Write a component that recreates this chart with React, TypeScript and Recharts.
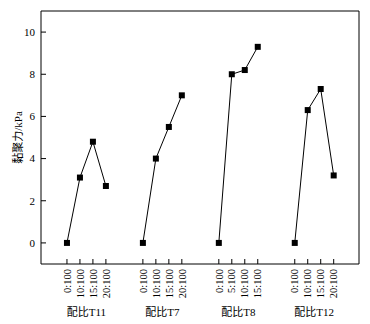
import React from "react";
import { LineChart, Line, XAxis, YAxis, ReferenceLine } from "recharts";

const groups = ["配比T11", "配比T7", "配比T8", "配比T12"];
const ratiosT11 = ["0:100", "10:100", "15:100", "20:100"];
const ratiosT7 = ["0:100", "10:100", "15:100", "20:100"];
const ratiosT8 = ["0:100", "5:100", "10:100", "15:100"];
const ratiosT12 = ["0:100", "10:100", "15:100", "20:100"];
const cohesionT11 = [0, 3.1, 4.8, 2.7];
const cohesionT7 = [0, 4.0, 5.5, 7.0];
const cohesionT8 = [0, 8.0, 8.2, 9.3];
const cohesionT12 = [0, 6.3, 7.3, 3.2];
const yTicks = [0, 2, 4, 6, 8, 10];

const ratios = [ratiosT11, ratiosT7, ratiosT8, ratiosT12];
const values = [cohesionT11, cohesionT7, cohesionT8, cohesionT12];

// horizontal layout: each group occupies 4 slots, groups spaced apart
const STEP = 5.85;
const X_DOMAIN = [-2, 3 * STEP + 3 + 1.95];
const Y_DOMAIN = [-1, 11];

const series = ratios.map((rs, g) =>
  rs.map((r, i) => ({ x: g * STEP + i, y: values[g][i], label: r }))
);
const tickLabel: Record<string, string> = {};
series.flat().forEach((p) => (tickLabel[p.x.toFixed(3)] = p.label));
const xTicks = series.flat().map((p) => p.x);
const groupTicks = groups.map((_, g) => g * STEP + 1.5);

const FONT = "'Liberation Serif', 'Noto Sans CJK SC', serif";

const RatioTick = (props: any) => {
  const { x, y, payload } = props;
  return (
    <g transform={`translate(${x},${y})`}>
      <line x1={0} y1={0} x2={0} y2={-5} stroke="#000" />
      <text
        transform="translate(0,5) rotate(-90)"
        textAnchor="end"
        dy="0.35em"
        fontSize={10.5}
        fontFamily={FONT}
        fill="#000"
      >
        {tickLabel[Number(payload.value).toFixed(3)]}
      </text>
    </g>
  );
};

const GroupTick = (props: any) => {
  const { x, y, payload } = props;
  const g = groupTicks.findIndex((t) => Math.abs(t - payload.value) < 1e-6);
  return (
    <text x={x} y={y} dy="0.71em" textAnchor="middle" fontSize={11} fontFamily={FONT} fill="#000">
      {groups[g]}
    </text>
  );
};

const ValueTick = (props: any) => {
  const { x, y, payload } = props;
  return (
    <g>
      <line x1={x} y1={y} x2={x + 5} y2={y} stroke="#000" />
      <text x={x - 6} y={y} dy="0.35em" textAnchor="end" fontSize={11} fontFamily={FONT} fill="#000">
        {payload.value}
      </text>
    </g>
  );
};

const SquareDot = (props: any) => {
  const { cx, cy } = props;
  if (cx == null || cy == null) return null;
  return <rect x={cx - 3} y={cy - 3} width={6} height={6} fill="#000" />;
};

export default function App() {
  return (
    <div style={{ position: "absolute", left: 0, top: 0, background: "#fff" }}>
      <LineChart width={370} height={324} margin={{ top: 11, right: 11, left: 0, bottom: 0 }}>
        <XAxis
          xAxisId={0}
          type="number"
          dataKey="x"
          domain={X_DOMAIN}
          ticks={xTicks}
          interval={0}
          allowDataOverflow
          height={42}
          tickSize={0}
          tickMargin={0}
          tickLine={false}
          tick={<RatioTick />}
          axisLine={{ stroke: "#000" }}
        />
        <XAxis
          xAxisId="g"
          type="number"
          dataKey="x"
          domain={X_DOMAIN}
          ticks={groupTicks}
          interval={0}
          allowDataOverflow
          height={18}
          tickSize={0}
          tickMargin={2}
          tickLine={false}
          axisLine={false}
          tick={<GroupTick />}
        />
        <YAxis
          yAxisId={0}
          type="number"
          domain={Y_DOMAIN}
          ticks={yTicks}
          interval={0}
          allowDataOverflow
          width={41}
          tickSize={0}
          tickMargin={0}
          tickLine={false}
          tick={<ValueTick />}
          axisLine={{ stroke: "#000" }}
          label={{
            value: "黏聚力/kPa",
            angle: -90,
            position: "insideLeft",
            offset: 18,
            style: { fontSize: 11, fontFamily: FONT, fill: "#000", textAnchor: "middle" },
          }}
        />
        <ReferenceLine xAxisId={0} yAxisId={0} y={Y_DOMAIN[1]} stroke="#000" strokeWidth={1} />
        <ReferenceLine xAxisId={0} yAxisId={0} x={X_DOMAIN[1]} stroke="#000" strokeWidth={1} />
        {series.map((data, g) => (
          <Line
            key={g}
            data={data}
            dataKey="y"
            xAxisId={0}
            yAxisId={0}
            type="linear"
            stroke="#000"
            strokeWidth={1}
            dot={<SquareDot />}
            activeDot={false}
            isAnimationActive={false}
          />
        ))}
      </LineChart>
    </div>
  );
}
